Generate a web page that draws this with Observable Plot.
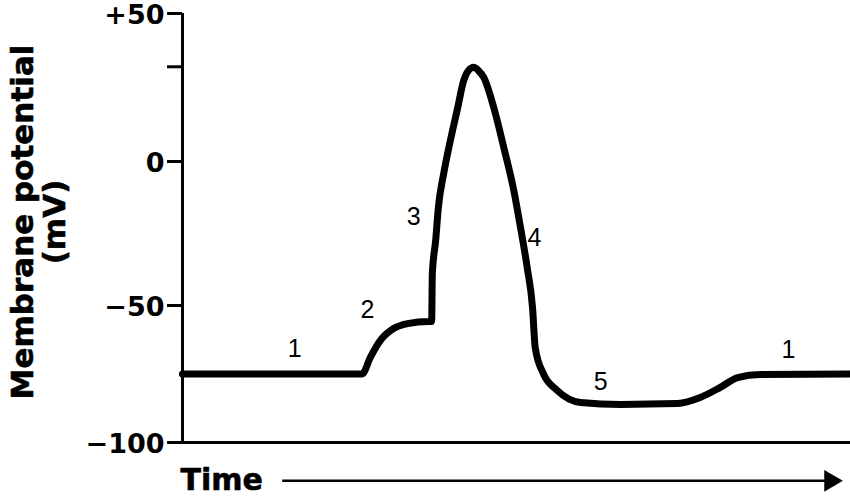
<!DOCTYPE html>
<html>
<head>
<meta charset="utf-8">
<script src="https://cdn.jsdelivr.net/npm/d3@7"></script>
<script src="https://cdn.jsdelivr.net/npm/@observablehq/plot@0.6"></script>
<style>
  html, body { margin: 0; padding: 0; background: #fff; }
</style>
</head>
<body>
<div id="chart"></div>
<script>
// Action potential trace (time in arbitrary units, membrane potential in mV)
const time = [0, 2.69, 2.81, 2.96, 3.16, 3.37, 3.68, 3.73, 3.74, 3.79, 3.83, 3.91, 4.01, 4.12, 4.21, 4.28, 4.36, 4.43, 4.51, 4.66, 4.81, 4.96, 5.06, 5.16, 5.24, 5.28, 5.40, 5.61, 5.96, 6.56, 7.41, 7.75, 8.05, 8.31, 8.65, 10];
const potential = [-75, -75, -69, -62.8, -58.4, -56.6, -55.8, -55.8, -38.9, -27.4, -16, -4.2, 7.1, 18.2, 27.4, 30.7, 31.8, 30.7, 28.4, 18.2, 4.7, -10.1, -22.9, -36.8, -50.7, -65.3, -74.8, -81, -85.4, -86.1, -85.8, -83.6, -79.9, -76.3, -75.2, -75];

// Phase labels
const stageText = ["1", "2", "3", "4", "5", "1"];
const stageTime = [1.68, 2.77, 3.46, 5.27, 6.26, 9.07];
const stageValue = [-65.7, -51.8, -19.4, -26.7, -78.1, -66.4];

// Axis ticks
const yTicks = [50, 0, -50, -100];
const yTickLabels = ["+50", "0", "\u221250", "\u2212100"];
const yMinorTicks = [32];

// Time arrow (annotation below the axis)
const arrowStart = 1.5, arrowEnd = 9.7, arrowLevel = -114;

const trace = time.map((t, i) => ({t, v: potential[i]}));
const stages = stageText.map((s, i) => ({s, t: stageTime[i], v: stageValue[i]}));

const bold = "DejaVu Sans";
const chart = Plot.plot({
  width: 850,
  height: 496,
  marginLeft: 182,
  marginRight: 0,
  marginTop: 13,
  marginBottom: 54,
  style: {background: "#fff", overflow: "visible"},
  x: {type: "linear", domain: [0, 10], range: [182, 850], axis: null},
  y: {type: "linear", domain: [-100, -50, 0, 50], range: [442, 305, 161, 13], axis: null},
  marks: [
    // axis lines
    Plot.ruleX([0], {y1: -100, y2: 50, strokeWidth: 3, stroke: "#000"}),
    Plot.ruleY([-100], {x1: 0, x2: 10, strokeWidth: 3, stroke: "#000"}),
    // tick lines
    Plot.axisY({
      ticks: yTicks.concat(yMinorTicks),
      tickSize: 15,
      strokeWidth: 3,
      tickFormat: () => "",
      label: null
    }),
    // tick labels
    Plot.axisY({
      ticks: yTicks,
      tickSize: 0,
      tickPadding: 18,
      tickFormat: d => yTickLabels[yTicks.indexOf(d)],
      fontSize: 27,
      fontWeight: "bold",
      fontFamily: bold,
      fill: "#000",
      dy: 2,
      label: null
    }),
    // y title
    Plot.text(["Membrane potential\n(mV)"], {
      frameAnchor: "left",
      textAnchor: "middle",
      lineAnchor: "middle",
      dx: -144,
      dy: -6,
      rotate: -90,
      lineHeight: 1.05,
      fontSize: 31,
      fontWeight: "bold",
      fontFamily: bold,
      fill: "#000",
      stroke: "#000",
      strokeWidth: 0.6
    }),
    // trace
    Plot.line(trace, {x: "t", y: "v", stroke: "#000", strokeWidth: 7, curve: "monotone-x", strokeLinejoin: "round"}),
    // phase labels
    Plot.text(stages, {x: "t", y: "v", text: "s", fontSize: 25, fontFamily: "Liberation Sans", fill: "#000"}),
    // time label and arrow
    Plot.text(["Time"], {x: -0.03, y: arrowLevel, textAnchor: "start", fontSize: 30, fontWeight: "bold", fontFamily: bold, fill: "#000", stroke: "#000", strokeWidth: 0.6}),
    Plot.ruleY([arrowLevel], {x1: arrowStart, x2: arrowEnd, strokeWidth: 2.5, stroke: "#000"}),
    Plot.dot([arrowEnd], {x: d => d, y: arrowLevel, symbol: "triangle", rotate: 90, r: 8, fill: "#000", stroke: "none"})
  ]
});
document.getElementById("chart").appendChild(chart);
</script>
</body>
</html>
